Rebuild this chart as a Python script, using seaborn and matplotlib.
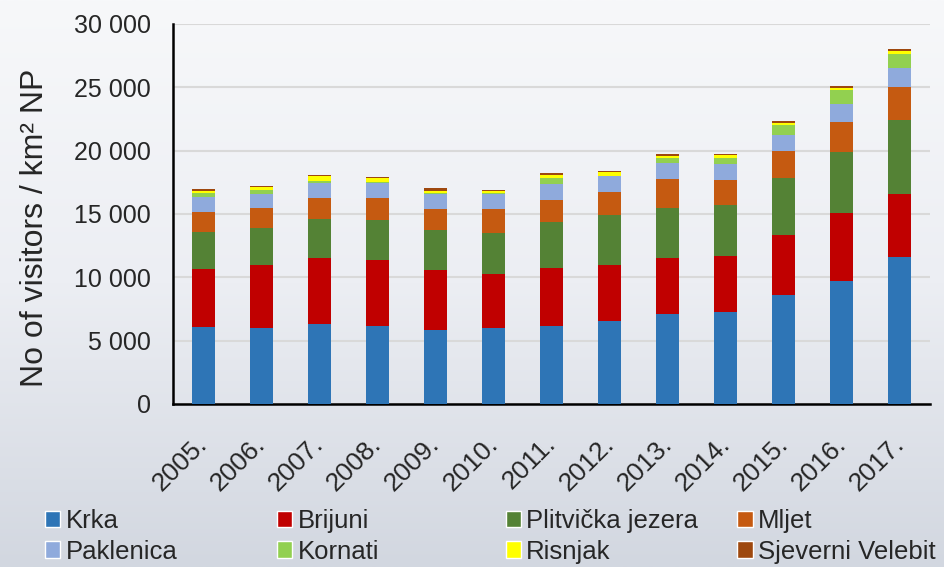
import numpy as np
import pandas as pd
import matplotlib
matplotlib.use("Agg")
import matplotlib.pyplot as plt
import matplotlib.transforms as mtransforms
import seaborn as sns
from matplotlib.patches import Patch
from matplotlib.colors import LinearSegmentedColormap

# data (visitors per km2 of national park)
years = ["2005.", "2006.", "2007.", "2008.", "2009.", "2010.", "2011.",
         "2012.", "2013.", "2014.", "2015.", "2016.", "2017."]
krka = [6050, 6030, 6320, 6180, 5840, 6000, 6130, 6580, 7080, 7280, 8580, 9680, 11610]
brijuni = [4600, 4920, 5180, 5160, 4740, 4240, 4580, 4420, 4420, 4430, 4720, 5410, 4990]
plitvice = [2920, 2950, 3080, 3180, 3160, 3290, 3660, 3900, 3970, 4010, 4570, 4800, 5780]
mljet = [1580, 1550, 1660, 1710, 1680, 1820, 1760, 1820, 2260, 1930, 2110, 2400, 2640]
paklenica = [1180, 1130, 1180, 1240, 1160, 1240, 1260, 1260, 1260, 1270, 1270, 1350, 1480]
kornati = [290, 290, 210, 50, 60, 50, 420, 50, 400, 530, 760, 1110, 1080]
risnjak = [210, 240, 340, 290, 200, 160, 290, 240, 180, 160, 190, 210, 260]
sjeverni_velebit = [130, 130, 130, 130, 180, 100, 160, 130, 160, 130, 160, 160, 210]

parks = ["Krka", "Brijuni", "Plitvička jezera", "Mljet",
         "Paklenica", "Kornati", "Risnjak", "Sjeverni Velebit"]
colors = ["#2E75B6", "#C00000", "#548235", "#C55A11",
          "#8FAADC", "#92D050", "#FFFF00", "#9E480E"]

df = pd.DataFrame({"year": years, "Krka": krka, "Brijuni": brijuni,
                   "Plitvička jezera": plitvice, "Mljet": mljet,
                   "Paklenica": paklenica, "Kornati": kornati,
                   "Risnjak": risnjak, "Sjeverni Velebit": sjeverni_velebit})
cum = df[parks].cumsum(axis=1)
cum["year"] = df["year"]

sns.set_style("white")
plt.rcParams['font.family'] = ['Liberation Sans', 'DejaVu Sans']

fig = plt.figure(figsize=(9.45, 5.67), dpi=100)

# background gradient
bg = fig.add_axes([0, 0, 1, 1], zorder=-10)
cmap = LinearSegmentedColormap.from_list("bg", ["#f7f8fa", "#eceef3", "#d2d7e0"])
grad = np.linspace(0, 1, 256).reshape(-1, 1)
bg.imshow(grad, aspect="auto", cmap=cmap, extent=[0, 1, 0, 1], origin="upper")
bg.axis("off")

ax = fig.add_axes([0.183, 0.2875, 0.801, 0.6705])
ax.set_facecolor("none")

# stacked bars: draw cumulative totals from top layer down
for park, c in reversed(list(zip(parks, colors))):
    sns.barplot(data=cum, x="year", y=park, color=c, saturation=1,
                width=0.4, ax=ax, zorder=3, edgecolor="none")

ax.set_xlim(-0.52, 12.52)
ax.set_ylim(0, 30000)
ax.set_yticks(np.arange(0, 30001, 5000))
ax.set_yticklabels([f"{v:,.0f}".replace(",", " ") for v in np.arange(0, 30001, 5000)],
                   fontsize=18)
ax.yaxis.grid(True, color="#d9d9d9", linewidth=1.5, zorder=0)
ax.set_axisbelow(True)
ax.tick_params(axis="both", length=0)
ax.tick_params(axis="y", pad=16)
ax.set_xticks(range(len(years)))
ax.set_xticklabels(years, rotation=45, ha="right", rotation_mode="anchor", fontsize=19)
ax.tick_params(axis="x", pad=20)
shift = mtransforms.ScaledTranslation(-0.08, 0, fig.dpi_scale_trans)
for lab in ax.get_xticklabels():
    lab.set_transform(lab.get_transform() + shift)
ax.set_xlabel("")
ax.set_ylabel("No of visitors / km² NP", fontsize=23)
ax.yaxis.set_label_coords(-0.1625, 0.463)
for s in ["top", "right"]:
    ax.spines[s].set_visible(False)
for s in ["left", "bottom"]:
    ax.spines[s].set_color("black")
    ax.spines[s].set_linewidth(1.8)

# legend: 4 columns placed by hand
col_x = [0.0476, 0.293, 0.535, 0.780]
columns = [(0, 4), (1, 5), (2, 6), (3, 7)]
for x, (i, j) in zip(col_x, columns):
    handles = [Patch(facecolor=colors[i], label=parks[i]),
               Patch(facecolor=colors[j], label=parks[j])]
    fig.legend(handles=handles, loc="upper left", bbox_to_anchor=(x, 0.102),
               frameon=False, handlelength=0.6, handleheight=0.6,
               handletextpad=0.2, labelspacing=0.25, borderaxespad=0, borderpad=0,
               prop={"size": 18.5})

fig.savefig("out.png", dpi=100)
